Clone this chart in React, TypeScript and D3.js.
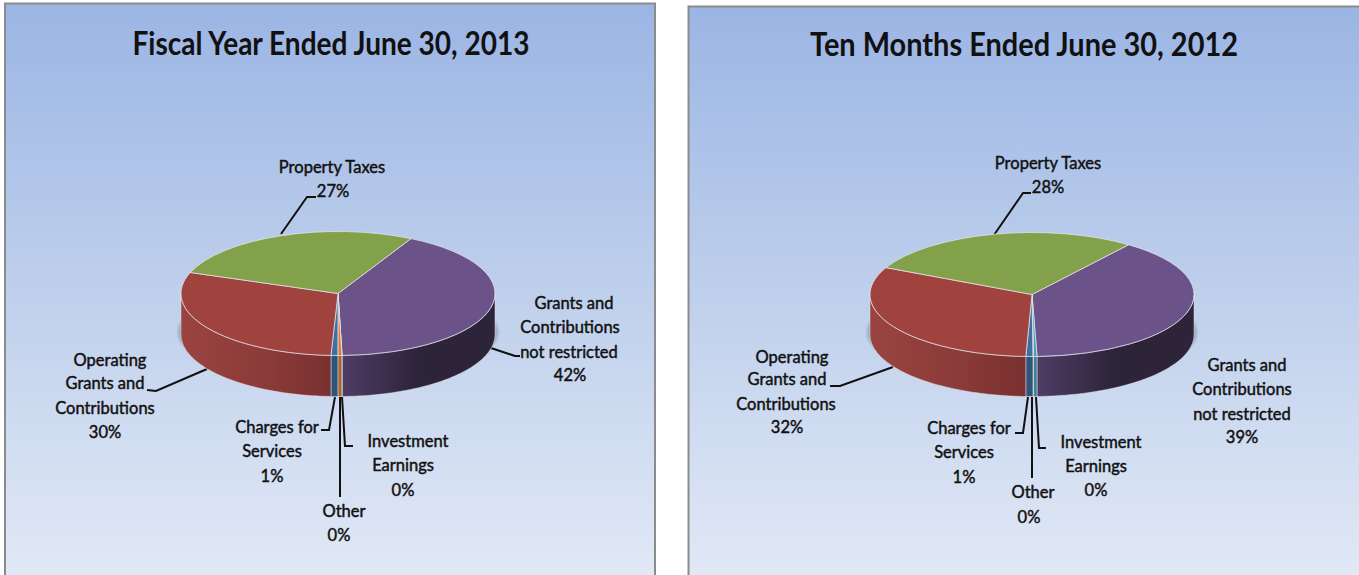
import React from "react";
import * as d3 from "d3";

// clockwise from the green/purple boundary
const categories = ["Grants", "Investment", "Other", "Charges", "Operating", "Property"];
const values2013 = [41.9, 0.03, 0.4, 0.7, 29.8, 27.2];
const values2012 = [39.3, 0.35, 0.05, 0.7, 31.5, 28];

const topColors = ["#6b5288", "#4a9db5", "#d9792e", "#3e6ea4", "#a0423e", "#83a04a"];
const wallColors = [
  ["#4f3c66", "#2c2439", "#2e2439"],
  ["#3d8297", "#3d8297", "#3d8297"],
  ["#a8642a", "#a8642a", "#a8642a"],
  ["#2f547c", "#2f547c", "#2f547c"],
  ["#9a4441", "#8a3a38", "#78302f"],
  ["#83a04a", "#83a04a", "#83a04a"],
];

const panels = [
  {
    id: "a",
    title: "Fiscal Year Ended June 30, 2013",
    values: values2013,
    rect: [5, 3.5, 650, 580],
    titlePos: [331, 55],
    titleWidth: 397,
    pie: { cx: 338, cy: 293.5, rx: 157, ry: 62, depth: 41, start: 27.7 },
    labels: [
      { x: [332], y: [173], text: ["Property Taxes"] },
      { x: [333], y: [197], text: ["27%"] },
      { x: [110, 105, 105, 105], y: [366, 389, 414, 438], text: ["Operating", "Grants and", "Contributions", "30%"] },
      { x: [574, 570, 569, 570], y: [309, 333, 358, 381], text: ["Grants and", "Contributions", "not restricted", "42%"] },
      { x: [277, 272, 272], y: [433, 457, 482], text: ["Charges for", "Services", "1%"] },
      { x: [408, 403, 403], y: [447, 471, 496], text: ["Investment", "Earnings", "0%"] },
      { x: [344, 339], y: [517, 541], text: ["Other", "0%"] },
    ],
    leaders: [
      [[281, 234], [307, 197], [316, 197]],
      [[207, 369], [156, 391], [147, 390]],
      [[491, 348], [515, 356], [520, 356]],
      [[335, 397], [329, 430], [321, 430]],
      [[340, 397], [340, 497]],
      [[342, 397], [345, 446], [353, 446]],
    ],
  },
  {
    id: "b",
    title: "Ten Months Ended June 30, 2012",
    values: values2012,
    rect: [688.5, 6.5, 675, 580],
    titlePos: [1024, 56],
    titleWidth: 428,
    pie: { cx: 1032, cy: 294.5, rx: 162, ry: 62, depth: 40, start: 36.6 },
    labels: [
      { x: [1048], y: [169], text: ["Property Taxes"] },
      { x: [1048], y: [193], text: ["28%"] },
      { x: [792, 787, 786, 787], y: [363, 385, 410, 433], text: ["Operating", "Grants and", "Contributions", "32%"] },
      { x: [1247, 1242, 1242, 1242], y: [371, 395, 420, 443], text: ["Grants and", "Contributions", "not restricted", "39%"] },
      { x: [969, 964, 964], y: [434, 458, 483], text: ["Charges for", "Services", "1%"] },
      { x: [1101, 1096, 1096], y: [448, 472, 496], text: ["Investment", "Earnings", "0%"] },
      { x: [1033, 1029], y: [498, 523], text: ["Other", "0%"] },
    ],
    leaders: [
      [[994, 235], [1023, 193], [1031, 193]],
      [[893, 367], [840, 386], [830, 386]],
      [[1028, 397], [1023, 433], [1015, 433]],
      [[1032, 397], [1032, 478]],
      [[1036, 397], [1039, 448], [1046, 448]],
    ],
  },
];

const fontFamily = "Lato, 'Open Sans', sans-serif";
const edge = "#e4e6ec";

function PiePanel({ panel }: { panel: (typeof panels)[number] }) {
  const { cx, cy, rx, ry, depth, start } = panel.pie;
  const startAngle = (start * Math.PI) / 180;

  const slices = d3
    .pie<number>()
    .sort(null)
    .startAngle(startAngle)
    .endAngle(startAngle + 2 * Math.PI)(panel.values);

  const arc = d3.arc<d3.PieArcDatum<number>>().innerRadius(0).outerRadius(rx);

  const px = (a: number) => cx + rx * Math.sin(a);
  const py = (a: number) => cy - ry * Math.cos(a);

  // outer wall: only the part of a slice facing the viewer
  const wall = d3
    .area<number>()
    .x(px)
    .y0(py)
    .y1((a) => py(a) + depth);

  const walls = slices
    .map((s, i) => {
      const a0 = Math.max(s.startAngle, Math.PI / 2);
      const a1 = Math.min(s.endAngle, (3 * Math.PI) / 2);
      if (a1 <= a0) return null;
      const n = Math.max(2, Math.ceil((a1 - a0) / 0.02));
      const angles = d3.range(n + 1).map((k) => a0 + ((a1 - a0) * k) / n);
      return { i, d: wall(angles) as string, x0: px(a1), x1: px(a0) };
    })
    .filter(Boolean) as { i: number; d: string; x0: number; x1: number }[];

  const bg = `bg-${panel.id}`;
  const line = d3.line();

  return (
    <g>
      <defs>
        <linearGradient id={bg} x1="0" y1="0" x2="0" y2="1">
          <stop offset="0" stopColor="#9bb5e4" />
          <stop offset="0.5" stopColor="#bfd0ec" />
          <stop offset="1" stopColor="#e2e9f6" />
        </linearGradient>
        {walls.map((w) => {
          const purple = categories[w.i] === "Grants";
          const c = wallColors[w.i];
          return (
            <linearGradient
              key={w.i}
              id={`wall-${panel.id}-${w.i}`}
              gradientUnits="userSpaceOnUse"
              x1={w.x0}
              x2={w.x1}
              y1="0"
              y2="0"
            >
              <stop offset="0" stopColor={c[0]} />
              <stop offset={purple ? 0.5 : 0.6} stopColor={c[1]} />
              <stop offset="1" stopColor={c[2]} />
            </linearGradient>
          );
        })}
        <filter id={`blur-${panel.id}`} x="-10%" y="-20%" width="120%" height="140%">
          <feGaussianBlur stdDeviation="1.5" />
        </filter>
      </defs>

      <rect
        x={panel.rect[0]}
        y={panel.rect[1]}
        width={panel.rect[2]}
        height={panel.rect[3]}
        fill={`url(#${bg})`}
        stroke="#8b8b8b"
        strokeWidth={2}
      />

      <text
        x={panel.titlePos[0]}
        y={panel.titlePos[1]}
        textAnchor="middle"
        fontFamily={fontFamily}
        fontWeight={700}
        fontSize={33}
        textLength={panel.titleWidth}
        lengthAdjust="spacingAndGlyphs"
        fill="#111"
      >
        {panel.title}
      </text>

      {panel.leaders.map((pts, i) => (
        <path key={i} d={line(pts as [number, number][]) as string} fill="none" stroke="#111" strokeWidth={2} />
      ))}

      {/* soft shadow behind the disc */}
      <ellipse
        cx={cx}
        cy={cy + depth * 0.95}
        rx={rx + 3}
        ry={ry - 10}
        fill="#6f7a8c"
        opacity={0.5}
        filter={`url(#blur-${panel.id})`}
      />

      {walls.map((w) => (
        <path
          key={w.i}
          d={w.d}
          fill={`url(#wall-${panel.id}-${w.i})`}
          stroke={edge}
          strokeOpacity={0.6}
          strokeWidth={0.8}
        />
      ))}

      <g transform={`translate(${cx},${cy}) scale(1,${ry / rx})`}>
        {slices.map((s, i) => (
          <path
            key={categories[i]}
            d={arc(s) as string}
            fill={topColors[i]}
            stroke={edge}
            strokeOpacity={0.75}
            strokeWidth={1}
            vectorEffect="non-scaling-stroke"
          />
        ))}
      </g>

      {panel.labels.map((l, i) => (
        <text
          key={i}
          textAnchor="middle"
          fontFamily={fontFamily}
          fontSize={16.5}
          fill="#111"
          stroke="#111"
          strokeWidth={0.45}
        >
          {l.text.map((t, k) => (
            <tspan key={k} x={l.x[k]} y={l.y[k]}>
              {t}
            </tspan>
          ))}
        </text>
      ))}
    </g>
  );
}

export default function App() {
  return (
    <svg
      width={1359}
      height={575}
      style={{ position: "absolute", left: 0, top: 0, display: "block", background: "#fff" }}
    >
      {panels.map((p) => (
        <PiePanel key={p.id} panel={p} />
      ))}
    </svg>
  );
}
